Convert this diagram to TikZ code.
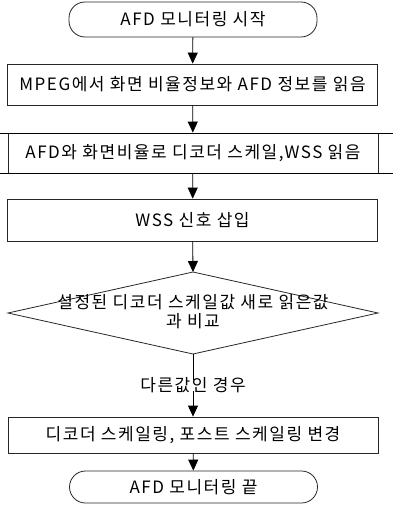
\documentclass[tikz,border=0pt]{standalone}
\usepackage{fontspec}
\setmainfont{Noto Sans CJK KR}[LetterSpace=9]
\usetikzlibrary{arrows.meta}
\begin{document}
\begin{tikzpicture}[x=1pt,y=-1pt,
  every node/.append style={font=\fontsize{17}{20}\selectfont, inner sep=0pt},
  term/.style={draw=black!85, line width=0.8pt, rounded corners=16pt, minimum width=248pt},
  procbox/.style={draw=black!85, line width=0.8pt, minimum width=370pt},
  conn/.style={draw=black, line width=0.8pt},
  arr/.style={conn, -{Triangle[length=11pt,width=10pt]}}]
\useasboundingbox (0,0) rectangle (393,506);
\node[term, minimum height=35pt] (start) at (193,19.5) {AFD 모니터링 시작};
\node[procbox, minimum height=41pt] (b2) at (192.5,84.5) {MPEG에서 화면 비율정보와 AFD 정보를 읽음};
\node[procbox, minimum height=40pt] (b3) at (193,153) {AFD와 화면비율로 디코더 스케일,WSS 읽음};
\coordinate (l3a) at (0,133); \coordinate (r3a) at (393,133);
\coordinate (l3b) at (0,173); \coordinate (r3b) at (393,173);
\draw[conn] (l3a) -- (r3a) (l3b) -- (r3b);
\node[procbox, minimum height=42pt] (b4) at (192.5,220) {WSS 신호 삽입};
\coordinate (dtop) at (193,272);
\coordinate (dright) at (378,313);
\coordinate (dbot) at (193,354);
\coordinate (dleft) at (8,313);
\draw[conn, draw=black!85] (dtop) -- (dright) -- (dbot) -- (dleft) -- cycle;
\node[align=center, font=\fontsize{17}{19}\selectfont] (dec) at (193,312) {설정된 디코더 스케일값 새로 읽은값\\과 비교};
\node (lab) at (193,385) {다른값인 경우};
\node[procbox, minimum height=36pt] (b5) at (193,435) {디코더 스케일링, 포스트 스케일링 변경};
\node[term, minimum height=32pt] (end) at (193.5,487) {AFD 모니터링 끝};
\draw[arr] (start) -- (b2);
\draw[arr] (b2) -- (b3);
\draw[arr] (b3) -- (b4);
\draw[arr] (b4) -- (dtop);
\draw[conn] (dbot) -- ([yshift=-3pt]lab.north);
\draw[arr] ([yshift=2pt]lab.south) -- (b5);
\draw[arr] (b5) -- (end);
\end{tikzpicture}
\end{document}
